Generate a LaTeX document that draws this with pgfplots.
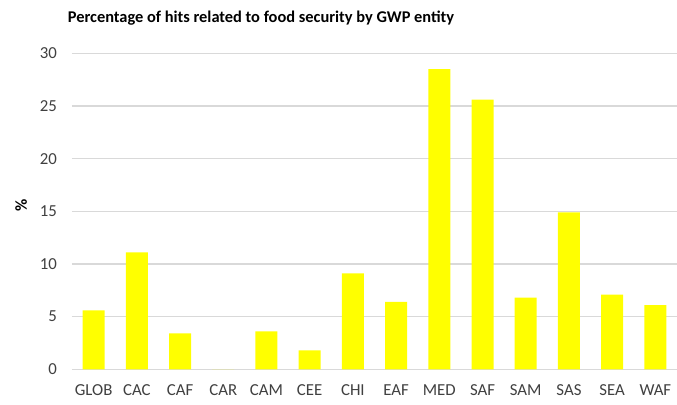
\documentclass[border=0pt]{standalone}
\usepackage{pgfplots}
\pgfplotsset{compat=1.18}
\usepackage{fontspec}
\setmainfont{Carlito}
\definecolor{gridgray}{HTML}{D9D9D9}
\definecolor{baryellow}{HTML}{FFFF00}
\definecolor{ticktext}{HTML}{404040}
\begin{document}
\begin{tikzpicture}
\begin{axis}[
  name=ax,
  scale only axis,
  width=302.5pt, height=158pt,
  ybar, bar width=11pt,
  ymin=0, ymax=30, ytick={0,5,...,30},
  xmin=-0.5, xmax=13.5,
  xtick=data,
  xticklabels={GLOB,CAC,CAF,CAR,CAM,CEE,CHI,EAF,MED,SAF,SAM,SAS,SEA,WAF},
  ymajorgrids,
  major grid style={gridgray, line width=0.6pt},
  axis x line*=bottom,
  axis y line*=left,
  x axis line style={gridgray, line width=0.6pt, -},
  y axis line style={draw=none},
  major tick length=0pt,
  tick label style={font=\fontsize{8.4}{10}\selectfont, text=ticktext},
  /pgf/number format/assume math mode=true,
  xticklabel style={yshift=-4pt},
  yticklabel style={xshift=-4pt},
  ylabel={\bfseries\%},
  ylabel style={font=\fontsize{8.4}{10}\selectfont, at={(axis description cs:-0.084,0.52)}, anchor=center},
  clip=false,
]
\addplot[draw=none, fill=baryellow] coordinates {
  (0,5.6) (1,11.1) (2,3.4) (3,0) (4,3.6) (5,1.8) (6,9.1)
  (7,6.4) (8,28.5) (9,25.6) (10,6.8) (11,14.9) (12,7.1) (13,6.1)};
\end{axis}
\node[font=\bfseries\fontsize{8.2}{10}\selectfont] at (94.5pt,175.5pt) {Percentage of hits related to food security by GWP entity};
\pgfresetboundingbox
\path (-36pt,-17.85pt) rectangle (302.5pt,184.65pt);
\end{tikzpicture}
\end{document}
